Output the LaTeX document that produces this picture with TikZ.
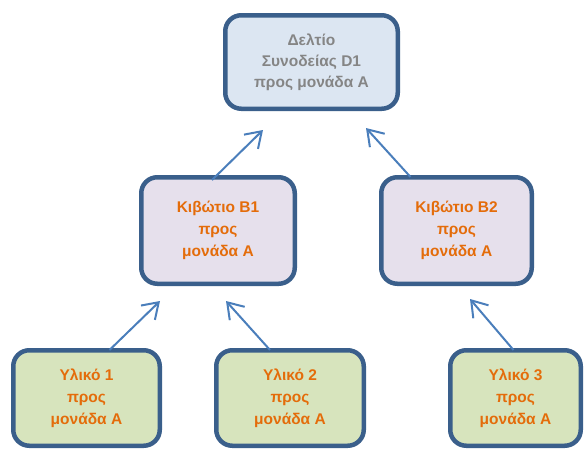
\documentclass[tikz,border=0pt]{standalone}
\usepackage{fontspec}
\setmainfont{Liberation Sans}
\usetikzlibrary{arrows.meta}
\definecolor{boxline}{HTML}{3A5F8B}
\definecolor{arrowblue}{HTML}{4A7EBB}
\definecolor{topfill}{HTML}{DCE6F2}
\definecolor{midfill}{HTML}{E6E0EC}
\definecolor{lowfill}{HTML}{D7E4BD}
\definecolor{labelorange}{HTML}{E46C0A}
\definecolor{labelgray}{HTML}{858585}
\tikzset{
% One box style, filled per level
doc box/.style={draw=boxline,line width=4.5pt,rounded corners=16pt,align=center,
  inner sep=0pt,font=\fontsize{15.5}{22}\selectfont\bfseries},
top box/.style={doc box,fill=topfill,text=labelgray,font=\fontsize{15.5}{21}\selectfont\bfseries},
mid box/.style={doc box,fill=midfill,text=labelorange},
low box/.style={doc box,fill=lowfill,text=labelorange},
% arrows towards the parent
up link/.style={draw=arrowblue,line width=2pt,-{Straight Barb[length=15pt,width=20pt]}}
}
\begin{document}
\begin{tikzpicture}[x=1pt,y=-1pt]
\useasboundingbox (0,0) rectangle (584,450);
% The boxes
\node(d1)[top box,minimum width=172.5,minimum height=93.5] at (311.5,62)
  {Δελτίο\\Συνοδείας D1\\προς μονάδα A};
\node(b1)[mid box,minimum width=153.5,minimum height=106.5] at (218,230.5)
  {Κιβώτιο B1\\προς\\μονάδα A};
\node(b2)[mid box,minimum width=150.5,minimum height=106.5] at (456.5,230.5)
  {Κιβώτιο B2\\προς\\μονάδα A};
\node(y1)[low box,minimum width=146.5,minimum height=95.5] at (86.5,398)
  {Υλικό 1\\προς\\μονάδα A};
\node(y2)[low box,minimum width=147.5,minimum height=95.5] at (290,398)
  {Υλικό 2\\προς\\μονάδα A};
\node(y3)[low box,minimum width=130.5,minimum height=95.5] at (515.5,398)
  {Υλικό 3\\προς\\μονάδα A};
% free ends of the arrows, below each parent
\coordinate(d1l) at (263,130);
\coordinate(d1r) at (366,128);
\coordinate(b1l) at (160,301);
\coordinate(b1r) at (226,301);
\coordinate(b2l) at (470,299);
% The arrows
\draw[up link]([xshift=-6]b1.north)++(0,5)--(d1l);
\draw[up link]([xshift=-46]b2.north)++(0,2)--(d1r);
\draw[up link]([xshift=23]y1.north)++(0,2)--(b1l);
\draw[up link]([xshift=-20]y2.north)++(0,2)--(b1r);
\draw[up link]([xshift=-2]y3.north)++(0,2)--(b2l);
\end{tikzpicture}
\end{document}
